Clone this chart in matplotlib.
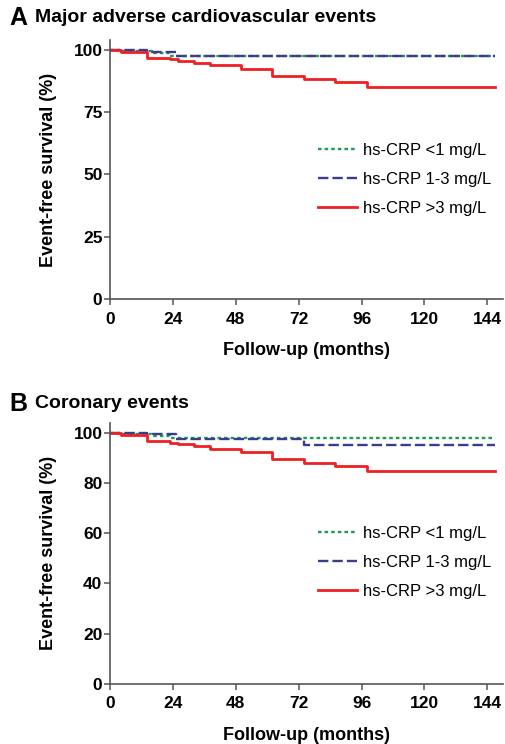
import matplotlib.pyplot as plt

plt.rcParams['font.family'] = ['Liberation Sans', 'DejaVu Sans']

# Kaplan-Meier step data (months, survival %)
months_a_low = [0, 4, 16, 23, 147]
surv_a_low = [100, 99.6, 98.8, 97.7, 97.7]
months_a_mid = [0, 14, 25, 147]
surv_a_mid = [100, 99.3, 97.5, 97.5]
months_a_high = [0, 4, 14, 23, 26, 32, 38, 50, 62, 74, 86, 98, 147]
surv_a_high = [100, 99.0, 96.8, 96.1, 95.4, 94.5, 93.7, 92.2, 89.5, 88.1, 87.0, 85.0, 85.0]

months_b_low = [0, 4, 16, 23, 147]
surv_b_low = [100, 99.6, 98.8, 97.8, 97.8]
months_b_mid = [0, 14, 25, 74, 147]
surv_b_mid = [100, 99.4, 97.5, 95.2, 95.2]
months_b_high = [0, 4, 14, 23, 26, 32, 38, 50, 62, 74, 86, 98, 147]
surv_b_high = [100, 98.9, 96.5, 96.0, 95.3, 94.5, 93.6, 92.3, 89.6, 88.0, 86.9, 84.9, 84.9]

labels = ['hs-CRP <1 mg/L', 'hs-CRP 1-3 mg/L', 'hs-CRP >3 mg/L']
x_ticks = [0, 24, 48, 72, 96, 120, 144]
y_ticks_a = [0, 25, 50, 75, 100]
y_ticks_b = [0, 20, 40, 60, 80, 100]

green = '#1e9a55'
blue = '#3c3c8c'
red = '#ee2024'
axis_col = '#555555'

fig = plt.figure(figsize=(5.05, 7.44), dpi=100)
ax_a = fig.add_axes([0.218, 0.598, 0.778, 0.3485])
ax_b = fig.add_axes([0.218, 0.081, 0.778, 0.351])


def draw_panel(ax, series, yticks, legend_anchor):
    (xl, yl), (xm, ym), (xh, yh) = series
    ax.step(xl, yl, where='post', color=green, lw=1.7, ls=(0, (1.5, 1.3)), label=labels[0])
    ax.step(xm, ym, where='post', color=blue, lw=1.7, ls=(0, (4.4, 1.7)), label=labels[1])
    ax.step(xh, yh, where='post', color=red, lw=2.0, label=labels[2])
    ax.set_xlim(0, 150)
    ax.set_ylim(0, 104)
    ax.set_xticks(x_ticks)
    ax.set_yticks(yticks)
    for s in ['top', 'right']:
        ax.spines[s].set_visible(False)
    for s in ['left', 'bottom']:
        ax.spines[s].set_color(axis_col)
        ax.spines[s].set_linewidth(1.2)
    ax.tick_params(direction='out', length=4.5, width=1.1, color=axis_col,
                   labelsize=12.5)
    ax.tick_params(axis='x', pad=4.5)
    ax.tick_params(axis='y', pad=1)
    for t in ax.get_xticklabels() + ax.get_yticklabels():
        t.set_fontweight('bold')
    ax.set_xlabel('Follow-up (months)', fontsize=13, fontweight='bold', labelpad=11)
    ax.set_ylabel('Event-free survival (%)', fontsize=13, fontweight='bold', labelpad=12)
    ax.legend(loc='upper left', bbox_to_anchor=legend_anchor,
              bbox_transform=fig.transFigure, frameon=False, fontsize=12,
              handlelength=2.35, handletextpad=0.36, labelspacing=0.83,
              borderpad=0, borderaxespad=0)


draw_panel(ax_a, [(months_a_low, surv_a_low), (months_a_mid, surv_a_mid),
                  (months_a_high, surv_a_high)], y_ticks_a,
           (318 / 505, 1 - 143 / 744))
draw_panel(ax_b, [(months_b_low, surv_b_low), (months_b_mid, surv_b_mid),
                  (months_b_high, surv_b_high)], y_ticks_b,
           (318 / 505, 1 - 526 / 744))

fig.text(9 / 505, 1 - 18 / 744, 'A', fontsize=18, fontweight='bold', va='center')
fig.text(35 / 505, 1 - 18 / 744, 'Major adverse cardiovascular events',
         fontsize=14, fontweight='bold', va='center')
fig.text(9 / 505, 1 - 404 / 744, 'B', fontsize=18, fontweight='bold', va='center')
fig.text(35 / 505, 1 - 404 / 744, 'Coronary events',
         fontsize=14, fontweight='bold', va='center')

fig.savefig('out.png', dpi=100)
